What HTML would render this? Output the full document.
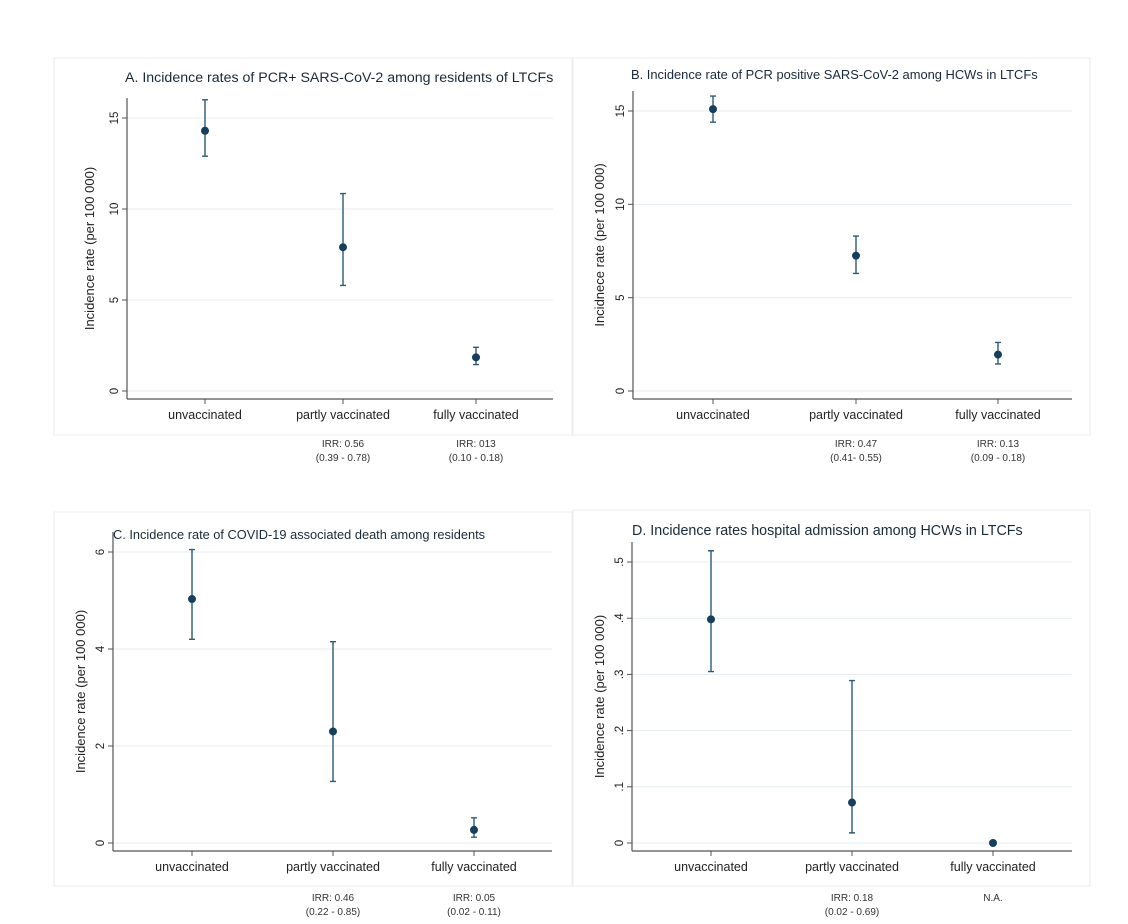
<!DOCTYPE html>
<html><head><meta charset="utf-8"><style>
body{margin:0;background:#fff;width:1128px;height:919px;overflow:hidden}
svg{font-family:"Liberation Sans",sans-serif}
</style></head><body>
<svg id="s" width="1128" height="919"></svg>
<script>
const categories=["unvaccinated","partly vaccinated","fully vaccinated"];
const estA=[14.3,7.9,1.85], loA=[12.9,5.8,1.45], hiA=[16.0,10.85,2.4];
const estB=[15.1,7.25,1.95], loB=[14.4,6.3,1.45], hiB=[15.8,8.3,2.6];
const estC=[5.03,2.3,0.27], loC=[4.2,1.27,0.12], hiC=[6.05,4.15,0.52];
const estD=[0.398,0.072,0], loD=[0.305,0.018,null], hiD=[0.52,0.289,null];
const ticksA=[0,5,10,15], ticksB=[0,5,10,15], ticksC=[0,2,4,6], ticksD=[0,0.1,0.2,0.3,0.4,0.5];
const tickLabD=["0",".1",".2",".3",".4",".5"];
const irrA=[null,["IRR: 0.56","(0.39 - 0.78)"],["IRR: 013","(0.10 - 0.18)"]];
const irrB=[null,["IRR: 0.47","(0.41- 0.55)"],["IRR: 0.13","(0.09 - 0.18)"]];
const irrC=[null,["IRR: 0.46","(0.22 - 0.85)"],["IRR: 0.05","(0.02 - 0.11)"]];
const irrD=[null,["IRR: 0.18","(0.02 - 0.69)"],["N.A."]];
const NS="http://www.w3.org/2000/svg", svg=document.getElementById('s');
function mk(t,a,p){const e=document.createElementNS(NS,t);for(const k in a)e.setAttribute(k,a[k]);(p||svg).appendChild(e);return e;}
const panels=[
 {id:'a',fx:54,fy:58,fw:518,fh:377,ax:127,ax2:553,by:399,y0:391,y1:118,v1:15,cx:[205,343,476],est:estA,lo:loA,hi:hiA,ticks:ticksA,tl:null,irr:irrA,irrY:443,ytl:"Incidence rate (per 100 000)",ytx:94,
  title:"A. Incidence rates of PCR+ SARS-CoV-2 among residents of LTCFs",tx:125,ty:82,ts:14.2},
 {id:'b',fx:573,fy:58,fw:517,fh:377,ax:633,ax2:1072,by:399,y0:391,y1:111,v1:15,cx:[713,856,998],est:estB,lo:loB,hi:hiB,ticks:ticksB,tl:null,irr:irrB,irrY:443,ytl:"Incidnece rate (per 100 000)",ytx:604,
  title:"B. Incidence rate of PCR positive SARS-CoV-2 among HCWs in LTCFs",tx:631,ty:79,ts:12.9},
 {id:'c',fx:54,fy:512,fw:518,fh:374,ax:113,ax2:552,by:851,y0:843,y1:552,v1:6,cx:[192,333,474],est:estC,lo:loC,hi:hiC,ticks:ticksC,tl:null,irr:irrC,irrY:897,ytl:"Incidence rate (per 100 000)",ytx:85,
  title:"C. Incidence rate of COVID-19 associated death among residents",tx:113,ty:539,ts:12.8},
 {id:'d',fx:573,fy:510,fw:517,fh:376,ax:632,ax2:1072,by:851,y0:843,y1:562,v1:0.5,cx:[711,852,993],est:estD,lo:loD,hi:hiD,ticks:ticksD,tl:tickLabD,irr:irrD,irrY:897,ytl:"Incidence rate (per 100 000)",ytx:604,
  title:"D. Incidence rates hospital admission among HCWs in LTCFs",tx:632,ty:535,ts:14.3}
];
panels.forEach(p=>{
 const g=mk('g',{});
 
 
 const y=v=>p.y0+(p.y1-p.y0)*v/p.v1;
 const fr=mk('rect',{x:p.fx,y:p.fy,width:p.fw,height:p.fh,fill:'none',stroke:'#eeeeee','stroke-width':1},g);
 
 const t=mk('text',{x:p.tx,y:p.ty,'font-size':p.ts,fill:'#1a2a3a'},g);t.textContent=p.title;
 
 p.ticks.forEach((v,i)=>{
  const gl=mk('line',{x1:p.ax,x2:p.ax2,y1:y(v),y2:y(v),stroke:'#e6edf1','stroke-width':1},g);
  
  mk('line',{x1:p.ax-5,x2:p.ax,y1:y(v),y2:y(v),stroke:'#555'},g);
  const tx=mk('text',{x:0,y:0,'font-size':11.5,'text-anchor':'middle',fill:'#222',transform:`translate(${p.ax-9},${y(v)}) rotate(-90)`},g);
  tx.textContent=p.tl?p.tl[i]:String(v);
  
 });
 mk('line',{x1:p.ax,x2:p.ax,y1:p.y1-20,y2:p.by,stroke:'#555','stroke-width':1.2},g);
 mk('line',{x1:p.ax,x2:p.ax2,y1:p.by,y2:p.by,stroke:'#555','stroke-width':1.2},g);
 const yt=mk('text',{x:0,y:0,'font-size':13,'text-anchor':'middle',fill:'#222',transform:`translate(${p.ytx},${(p.y0+p.y1)/2-6}) rotate(-90)`},g);
 yt.textContent=p.ytl;
 
 categories.forEach((c,i)=>{
  const x=p.cx[i];
  mk('line',{x1:x,x2:x,y1:p.by,y2:p.by+5,stroke:'#555'},g);
  const cl=mk('text',{x:x,y:p.by+20,'font-size':12.5,'text-anchor':'middle',fill:'#222'},g);cl.textContent=c;
  
  if(p.lo[i]!=null){
   const ci=mk('path',{d:`M${x},${y(p.lo[i])}V${y(p.hi[i])}M${x-3},${y(p.lo[i])}H${x+3}M${x-3},${y(p.hi[i])}H${x+3}`,stroke:'#2c5a78','stroke-width':1.4,fill:'none'},g);
   
  }
  const d=mk('circle',{cx:x,cy:y(p.est[i]),r:4,fill:'#163f5e'},g);
  
  const ir=p.irr[i];
  if(ir){ir.forEach((s,k)=>{
   const it=mk('text',{x:x,y:p.irrY+k*14+4,'font-size':10,'text-anchor':'middle',fill:'#333'},g);it.textContent=s;
   
  });}
 });
});
</script>
</body></html>
